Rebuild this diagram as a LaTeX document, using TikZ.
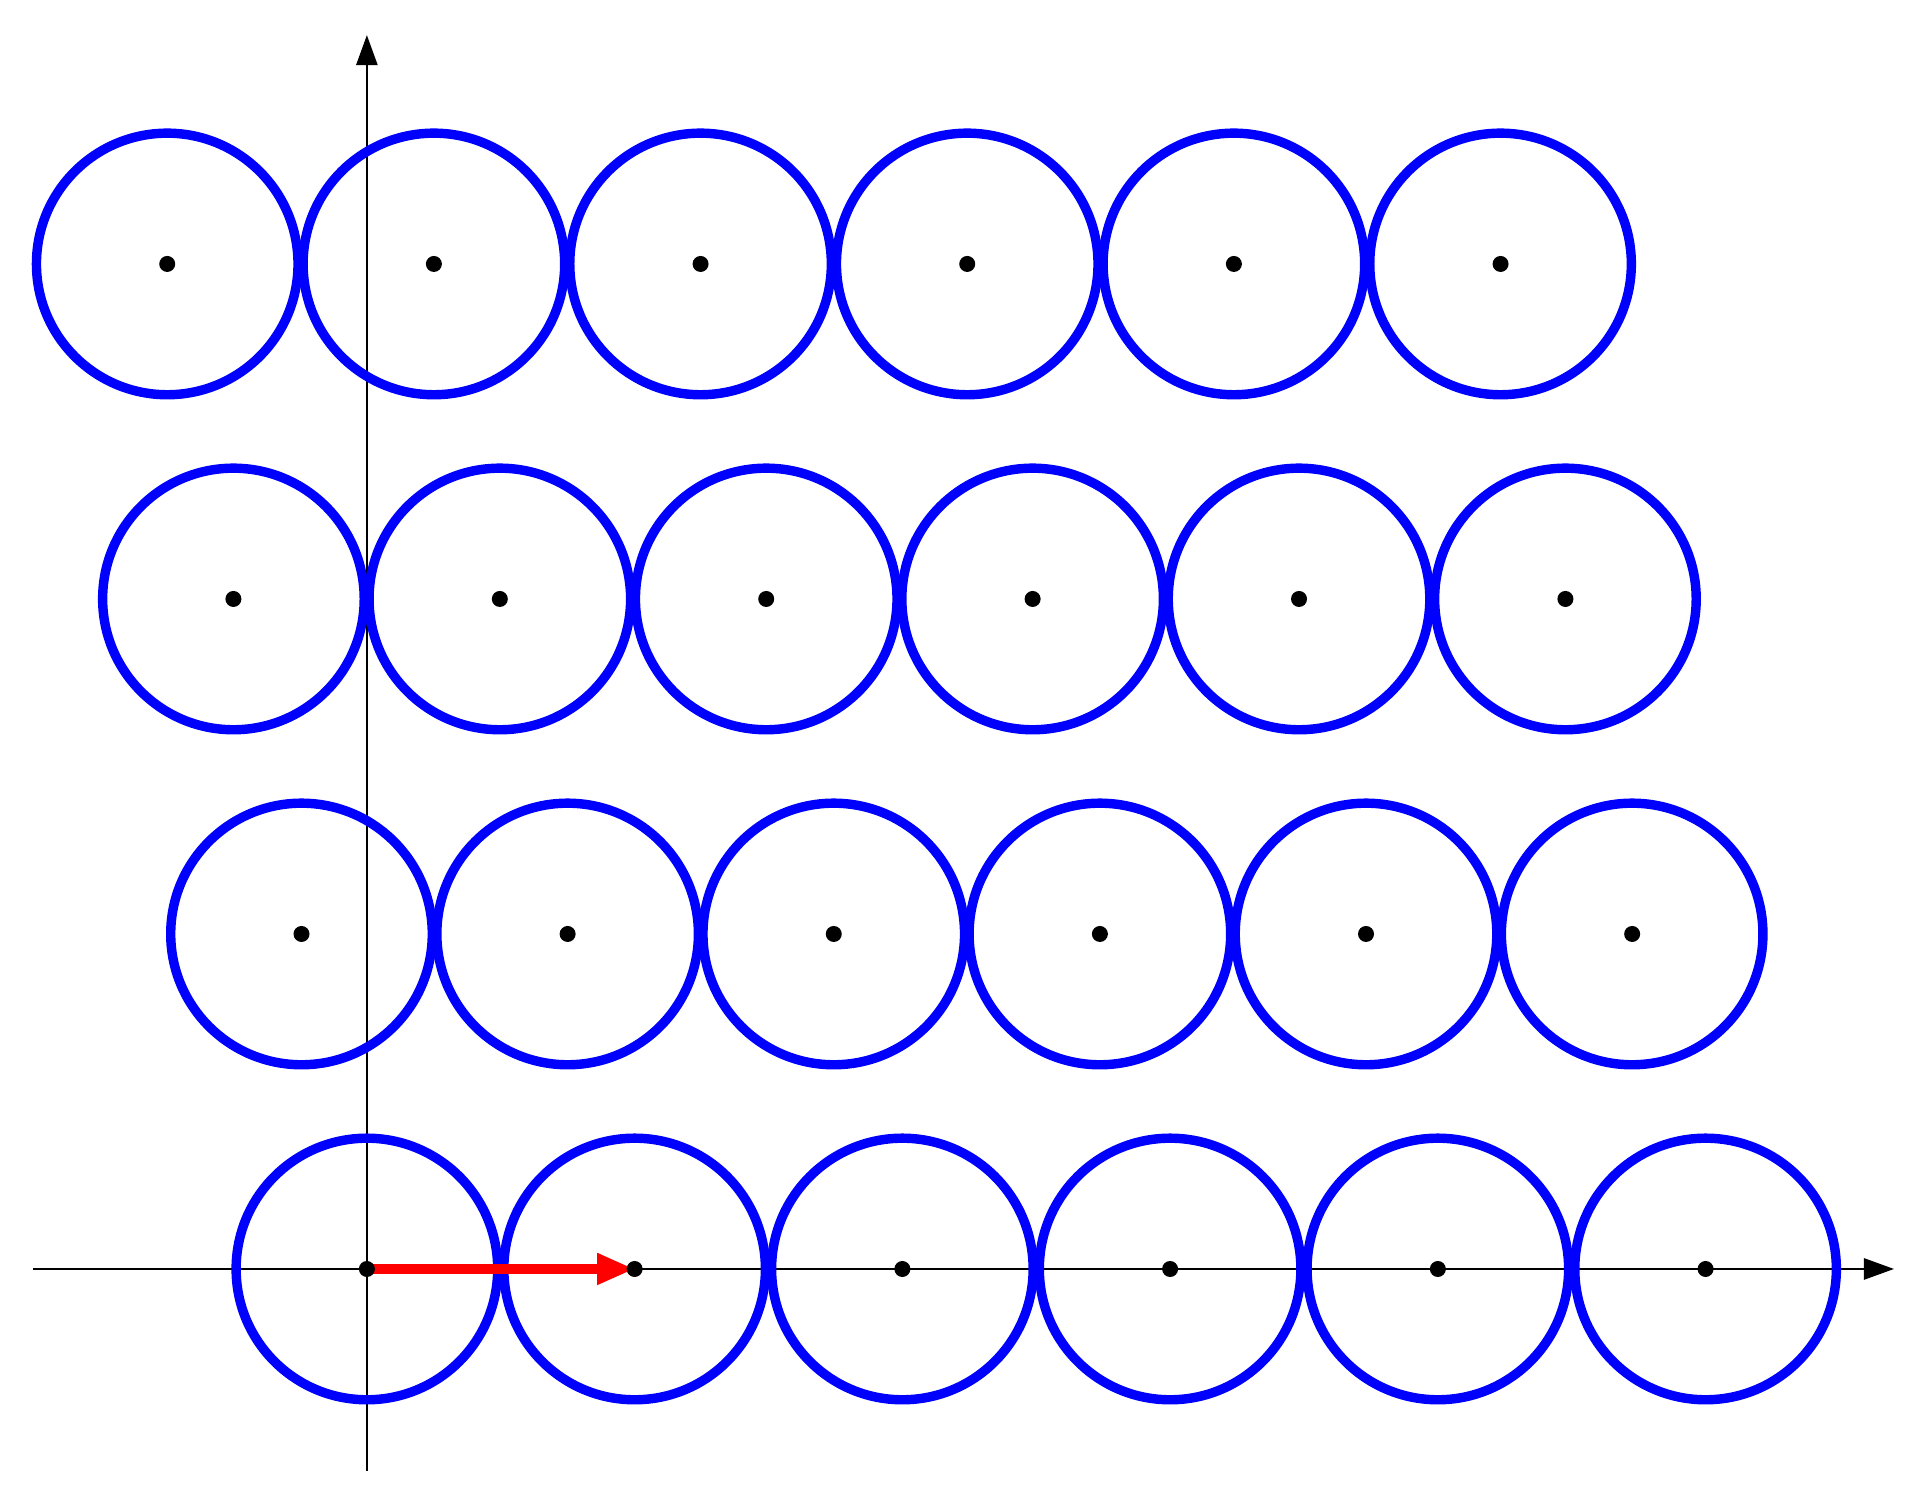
\documentclass[tikz,border=0pt]{standalone}
\usetikzlibrary{arrows.meta}
\begin{document}
\begin{tikzpicture}[x=2cm,y=2cm,
  ring/.style={draw=blue, line width=2pt},
  dotmark/.style={fill=black},
  axis/.style={draw=black, line width=0.5pt, -{Triangle[length=6.4pt,width=4.5pt]}},
  vec/.style={draw=red, line width=2pt, -{Triangle[length=8pt,width=6.2pt]}}]
\useasboundingbox (-1.369,-0.903) rectangle (5.795,4.735);
\coordinate (xl) at (-1.246,0);
\coordinate (xr) at (5.698,0);
\coordinate (yb) at (0,-0.753);
\coordinate (yt) at (0,4.604);
\draw[axis] (xl) -- (xr);
\draw[axis] (yb) -- (yt);
\foreach \j/\s/\o in {0/0.999/0, 1/0.993/-0.244, 2/0.994/-0.498, 3/0.995/-0.745} {
  \foreach \i in {0,...,5} {
    \coordinate (c\i\j) at ({\o+\s*\i},{1.25*\j});
    \draw[ring] (c\i\j) circle[radius=0.488];
  }
}
\coordinate (O) at (0,0);
\coordinate (P) at (1,0);
\draw[vec] (O) -- (P);
\foreach \j in {0,...,3} {
  \foreach \i in {0,...,5} {
    \fill[dotmark] (c\i\j) circle[radius=1.7pt];
  }
}
\end{tikzpicture}
\end{document}
